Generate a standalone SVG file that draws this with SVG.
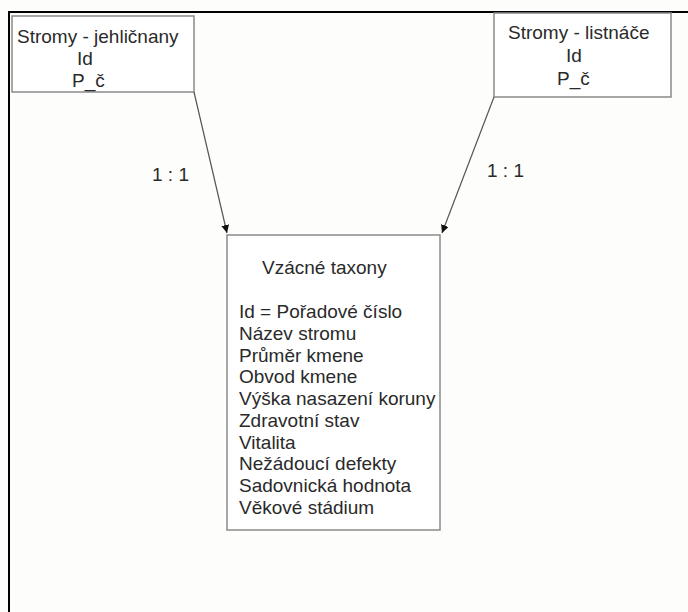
<svg xmlns="http://www.w3.org/2000/svg" width="688" height="612" viewBox="0 0 688 612">
  <style>
    .frame { fill: none; stroke: #000; stroke-width: 2; }
    .box { fill: #fff; stroke: #8a8a8a; stroke-width: 1.5; }
    .edge { fill: none; stroke: #555; stroke-width: 1.2; }
    text { font-family: "Liberation Sans", Arial, sans-serif; font-size: 19px; fill: #2a2a2a; }
  </style>
  <defs>
    <marker id="arrow" viewBox="0 0 10 10" refX="10" refY="5" markerWidth="8" markerHeight="8" markerUnits="userSpaceOnUse" orient="auto">
      <path d="M0,0 L10,5 L0,10 Z" fill="#111"/>
    </marker>
  </defs>
  <rect width="688" height="612" fill="#fdfdfb"/>
  <!-- page frame: only top and left edges fall inside the canvas -->
  <path class="frame" d="M9,612 V12 H688"/>

  <g id="conifers">
    <rect class="box" x="12" y="16" width="182" height="76"/>
    <text x="17" y="43">Stromy - jehličnany</text>
    <text x="77" y="65">Id</text>
    <text x="72" y="87">P_č</text>
  </g>

  <g id="broadleaves">
    <rect class="box" x="494" y="13" width="177" height="84"/>
    <text x="508" y="39">Stromy - listnáče</text>
    <text x="566" y="62">Id</text>
    <text x="557" y="85">P_č</text>
  </g>

  <g id="rare-taxa">
    <rect class="box" x="227" y="235" width="213" height="295"/>
    <text x="262" y="274">Vzácné taxony</text>
    <text x="239" y="318">Id = Pořadové číslo</text>
    <text x="239" y="340">Název stromu</text>
    <text x="239" y="362">Průměr kmene</text>
    <text x="239" y="383">Obvod kmene</text>
    <text x="239" y="405">Výška nasazení koruny</text>
    <text x="239" y="427">Zdravotní stav</text>
    <text x="239" y="449">Vitalita</text>
    <text x="239" y="470">Nežádoucí defekty</text>
    <text x="239" y="492">Sadovnická hodnota</text>
    <text x="239" y="514">Věkové stádium</text>
  </g>

  <g id="connectors">
    <line class="edge" x1="194" y1="92" x2="227" y2="233" marker-end="url(#arrow)"/>
    <line class="edge" x1="494" y1="97" x2="442" y2="233" marker-end="url(#arrow)"/>
    <text x="152" y="181">1 : 1</text>
    <text x="487" y="177">1 : 1</text>
  </g>
</svg>
